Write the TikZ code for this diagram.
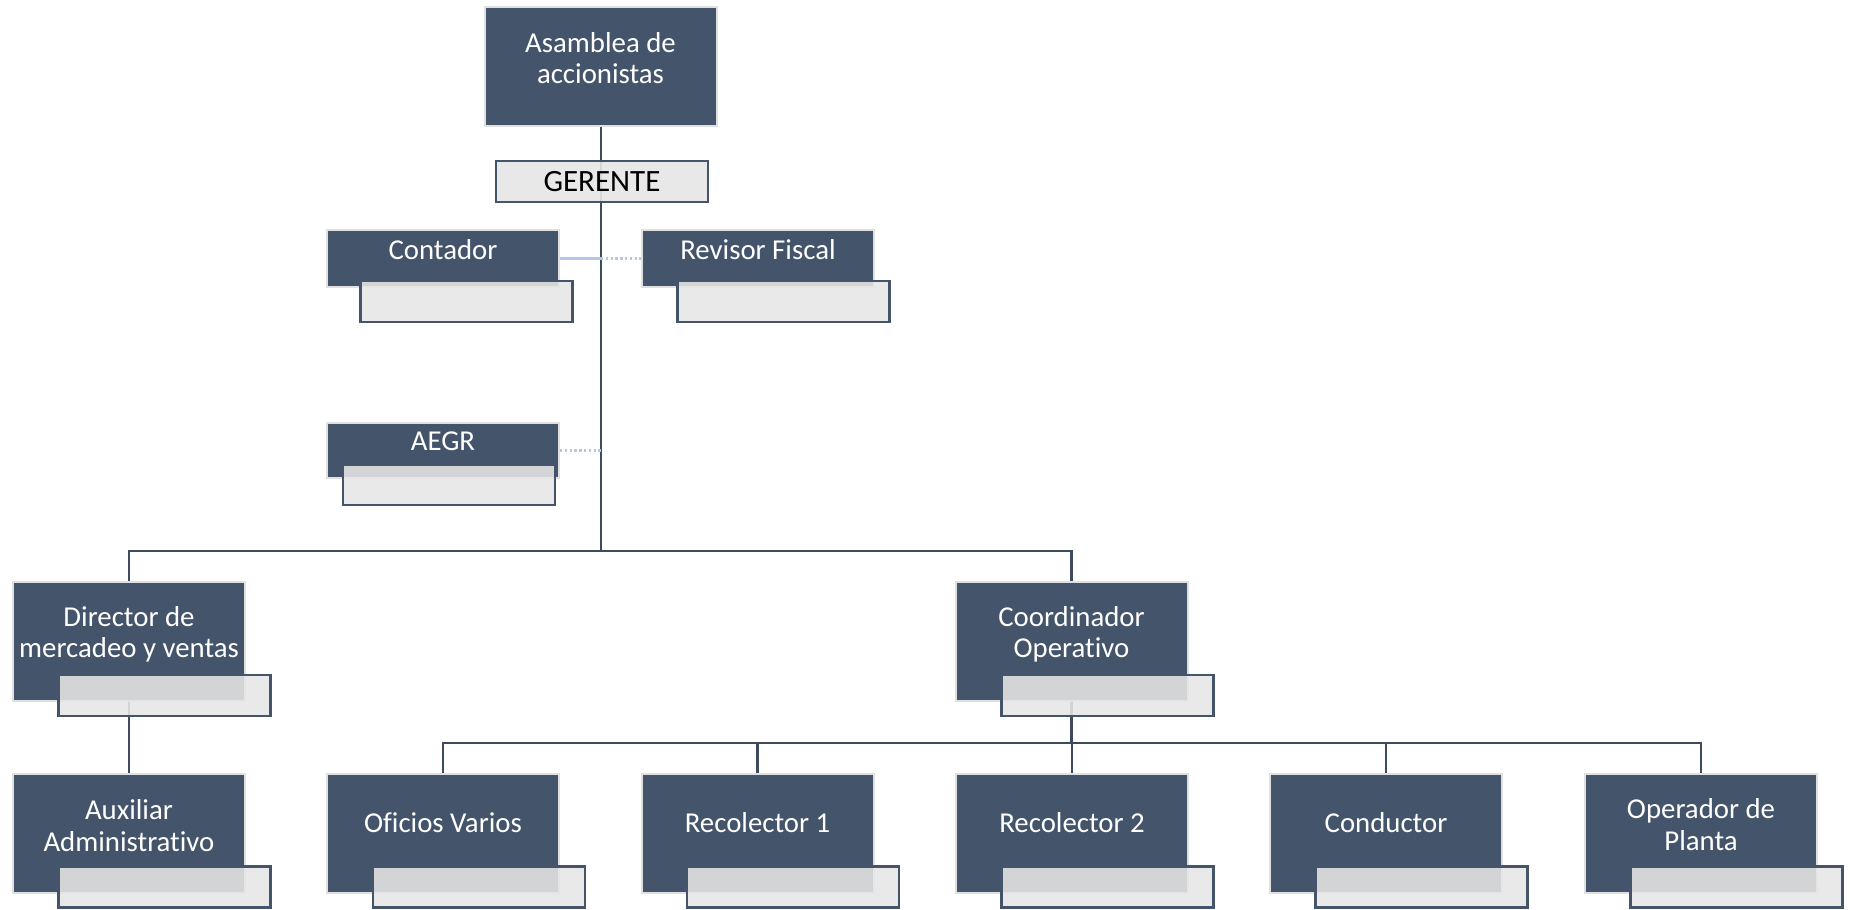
\documentclass[tikz,border=0pt]{standalone}
\usepackage{fontspec}
\setmainfont{Carlito}[Ligatures=NoCommon]
\definecolor{slate}{HTML}{44546A}
\definecolor{lgray}{HTML}{E7E6E6}
\definecolor{edgegray}{HTML}{E0E0E0}
\definecolor{linecol}{HTML}{3E4A5D}
\definecolor{assistblue}{HTML}{B4C7E7}
\begin{document}
\begin{tikzpicture}[x=0.5pt,y=-0.5pt,
  mainbox/.style={draw=edgegray, line width=1pt, fill=slate, inner sep=0pt, minimum width=116pt},
  tallbox/.style={mainbox, minimum height=59.5pt},
  shortbox/.style={mainbox, minimum height=28.5pt},
  subbox/.style={draw=slate, line width=1.2pt, fill=lgray, fill opacity=0.88, inner sep=0pt, minimum width=106pt, minimum height=20.5pt},
  boxtext/.style={text=white, font=\fontsize{14.4}{15.8}\selectfont, align=center, inner sep=0pt},
  conn/.style={draw=linecol, line width=1.35pt},
  assistsolid/.style={draw=assistblue, line width=1.1pt},
  assistdot/.style={draw=assistblue, line width=1.1pt, dash pattern=on 1.2pt off 1.2pt}
]
\useasboundingbox (0,0) rectangle (1850,909);

% main boxes
\node[tallbox] (asam) at (600.5,67) {};
\node[shortbox] (cont) at (443,258.5) {};
\node[shortbox] (revi) at (758,258.5) {};
\node[shortbox, minimum height=27.5pt] (aegr) at (443,450.5) {};
\node[tallbox] (dir) at (129,641.5) {};
\node[tallbox] (coor) at (1071.5,641.5) {};
\node[tallbox] (aux) at (129,833) {};
\node[tallbox] (ofi) at (443,833) {};
\node[tallbox] (rec1) at (757.5,833) {};
\node[tallbox] (rec2) at (1072,833) {};
\node[tallbox] (cond) at (1386,833) {};
\node[tallbox] (oper) at (1701,833) {};

% junctions
\coordinate (j1) at (601,551);
\coordinate (j2) at (1071.5,743);

% connectors
\draw[conn] (asam.south -| j1) -- (j1);
\draw[conn] (dir.north) |- (j1) -| (coor.north);
\draw[conn] (dir.south) -- (aux.north);
\draw[conn] (coor.south) -- (j2);
\draw[conn] (ofi.north) |- (j2) -| (oper.north);
\draw[conn] (rec1.north) -- (rec1.north |- j2);
\draw[conn] (rec2.north) -- (rec2.north |- j2);
\draw[conn] (cond.north) -- (cond.north |- j2);
\draw[assistsolid] (cont.east) -- (cont.east -| j1);
\draw[assistdot] (cont.east -| j1) -- (revi.west);
\draw[assistdot] (aegr.east) -- (aegr.east -| j1);

% gerente
\node[draw=slate, line width=1.2pt, fill=lgray, fill opacity=0.9, text opacity=1, minimum width=106pt, minimum height=20.5pt, inner sep=0pt, font=\fontsize{15.5}{18}\selectfont] (ger) at (602,181.5) {GERENTE};

% sub boxes
\node[subbox] (conts) at (466.5,301.5) {};
\node[subbox] (revis) at (783.5,301.5) {};
\node[subbox, minimum height=20pt] (aegrs) at (449,485) {};
\node[subbox] (dirs) at (164.5,695.5) {};
\node[subbox] (coors) at (1107.5,695.5) {};
\node[subbox] (auxs) at (164.5,887) {};
\node[subbox] (ofis) at (479,887) {};
\node[subbox] (rec1s) at (793,887) {};
\node[subbox] (rec2s) at (1107.5,887) {};
\node[subbox] (conds) at (1421.5,887) {};
\node[subbox] (opers) at (1736.5,887) {};

% texts
\node[boxtext] (asamt) at (600.5,58) {Asamblea de\\accionistas};
\node[boxtext] (contt) at (443,249.5) {Contador};
\node[boxtext] (revit) at (758,249.5) {Revisor Fiscal};
\node[boxtext] (aegrt) at (443,441) {AEGR};
\node[boxtext] (dirt) at (129,634.5) {Director de\\mercadeo y ventas};
\node[boxtext] (coort) at (1071.5,634.5) {Coordinador\\Operativo};
\node[boxtext] (auxt) at (129,825.5) {Auxiliar\\Administrativo};
\node[boxtext] (ofit) at (443,822.5) {Oficios Varios};
\node[boxtext] (rec1t) at (757.5,822.5) {Recolector 1};
\node[boxtext] (rec2t) at (1072,822.5) {Recolector 2};
\node[boxtext] (condt) at (1386,822.5) {Conductor};
\node[boxtext] (opert) at (1701,824.5) {Operador de\\Planta};
\end{tikzpicture}
\end{document}
